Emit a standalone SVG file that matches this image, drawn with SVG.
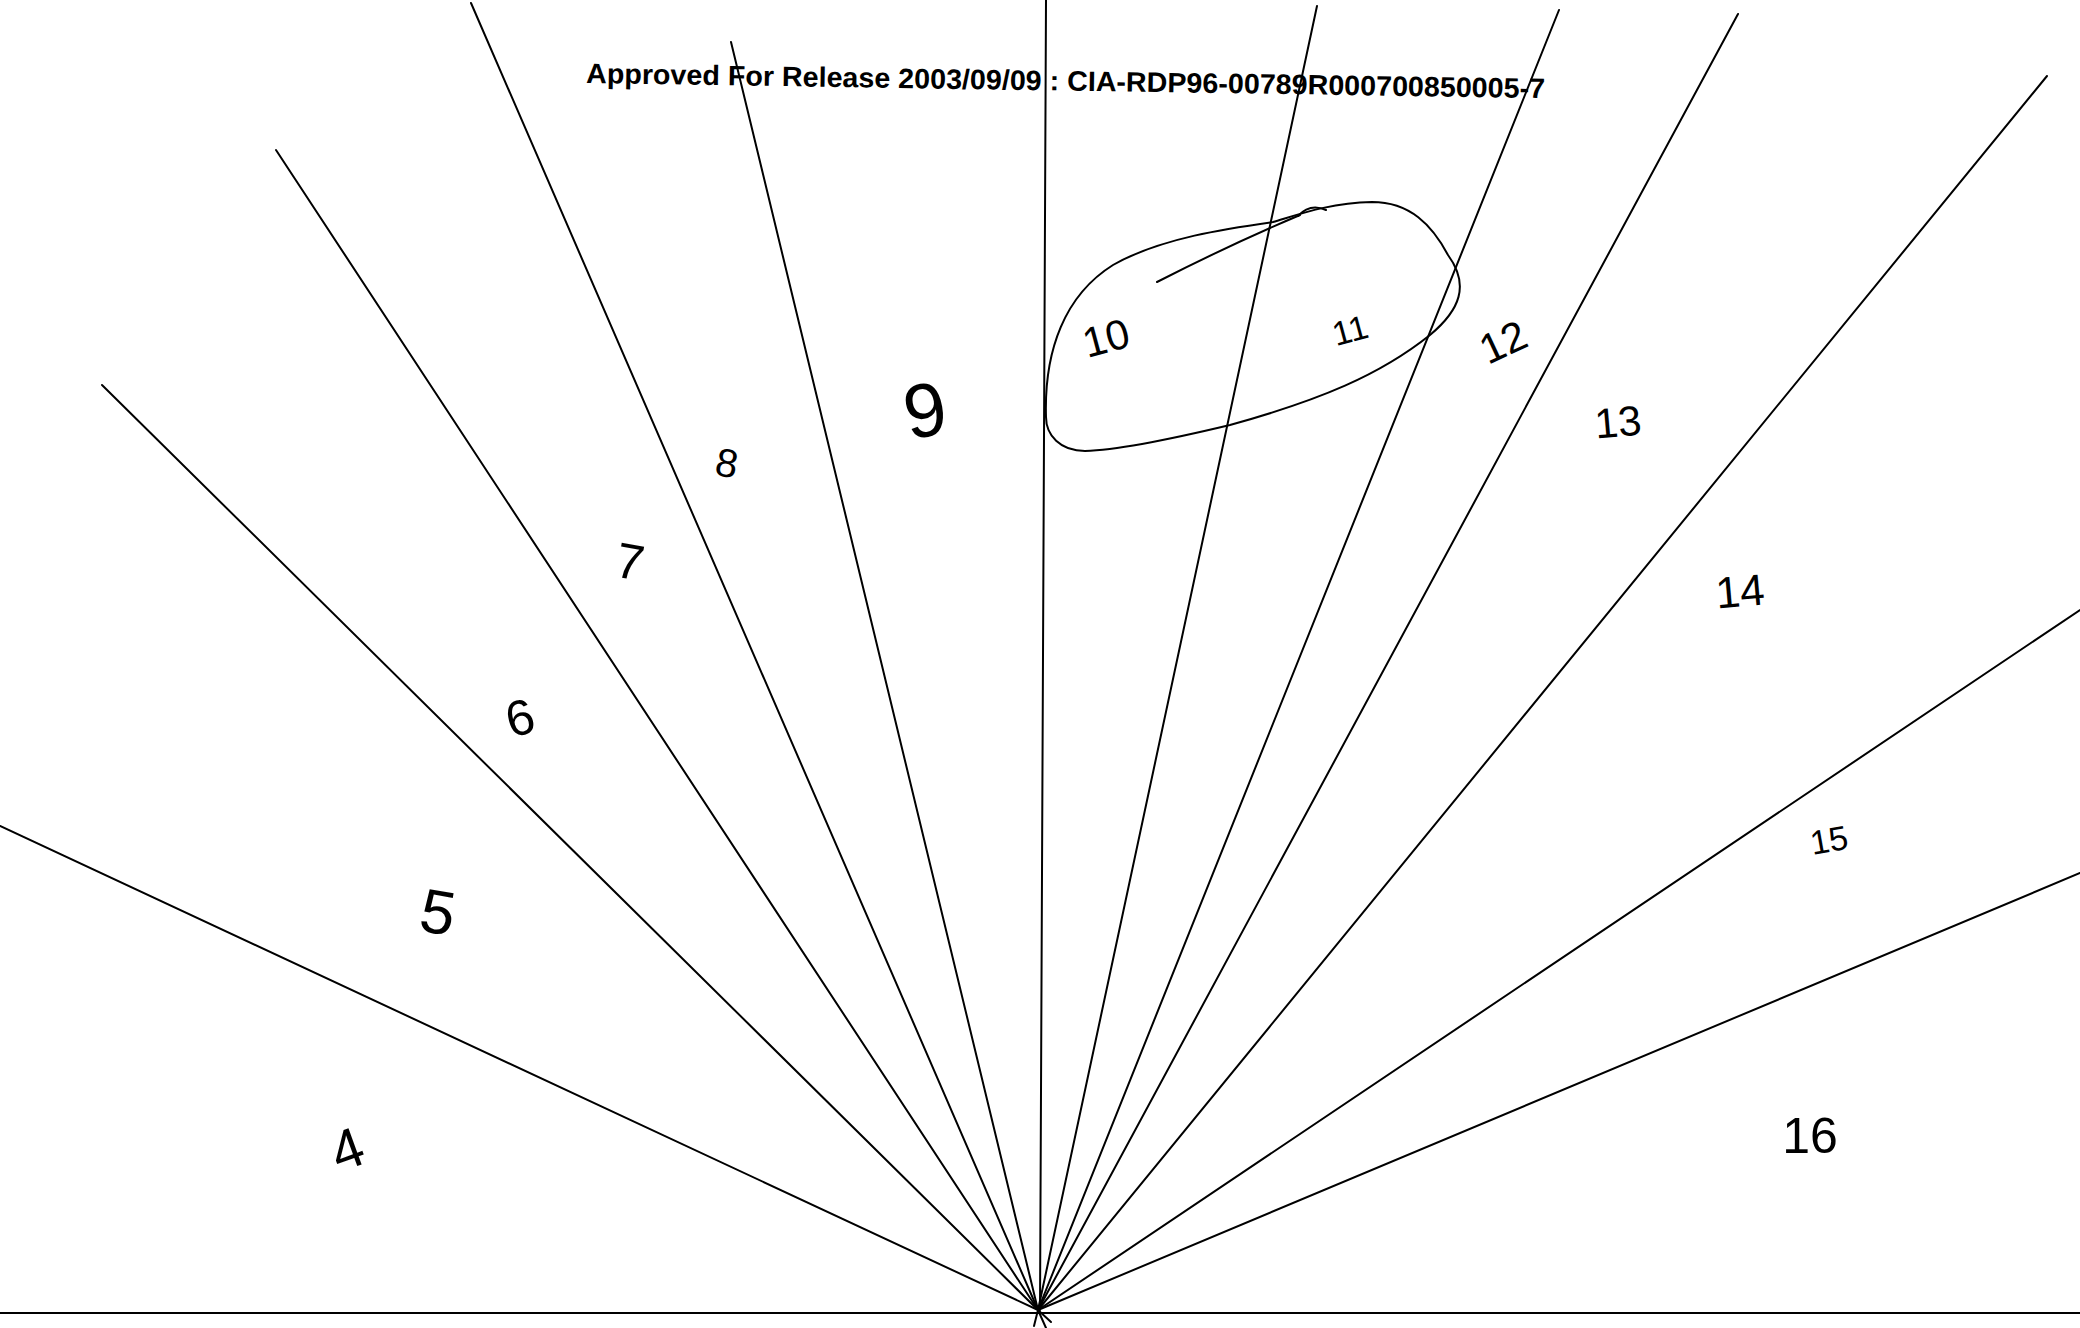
<svg xmlns="http://www.w3.org/2000/svg" width="2080" height="1328" viewBox="0 0 2080 1328">
<style>
.ray{stroke:#000;stroke-width:2;fill:none;stroke-linecap:round}
.hand{font-family:"Liberation Sans",Arial,sans-serif;fill:#000;text-anchor:middle;dominant-baseline:central}
.hdr{font-family:"Liberation Sans",Arial,sans-serif;font-weight:bold;font-size:28px;fill:#000}
</style>
<rect width="2080" height="1328" fill="#fff"/>
<g id="header">
<text class="hdr" x="586" y="83" textLength="959" lengthAdjust="spacingAndGlyphs" transform="rotate(0.9 586 83)">Approved For Release 2003/09/09 : CIA-RDP96-00789R000700850005-7</text>
</g>
<g id="connectors">
<line class="ray" x1="0" y1="1313" x2="2080" y2="1313"/>
<line class="ray" x1="0" y1="826" x2="1038" y2="1310"/>
<line class="ray" x1="102" y1="385" x2="1038" y2="1310"/>
<line class="ray" x1="276" y1="150" x2="1038" y2="1310"/>
<line class="ray" x1="471" y1="3" x2="1038" y2="1310"/>
<line class="ray" x1="731" y1="42" x2="1038" y2="1310"/>
<line class="ray" x1="1046" y1="0" x2="1040" y2="1310"/>
<line class="ray" x1="1317" y1="6" x2="1038" y2="1310"/>
<line class="ray" x1="1559" y1="10" x2="1038" y2="1310"/>
<line class="ray" x1="1738" y1="14" x2="1038" y2="1310"/>
<line class="ray" x1="2047" y1="76" x2="1038" y2="1310"/>
<line class="ray" x1="2080" y1="610" x2="1038" y2="1310"/>
<line class="ray" x1="2080" y1="873" x2="1038" y2="1310"/>
<line class="ray" x1="1038" y1="1310" x2="1046" y2="1328"/>
<line class="ray" x1="1038" y1="1310" x2="1034" y2="1326"/>
<line class="ray" x1="1038" y1="1310" x2="1051" y2="1322"/>
</g>
<g id="loop">
<path class="ray" d="M1046,417 C1044,350 1065,295 1113,265 C1160,238 1230,228 1273,222 C1300,214 1330,203 1372,202 C1410,202 1432,225 1448,255 C1470,285 1460,310 1430,335 C1380,375 1320,400 1230,425 C1180,437 1120,450 1085,451 C1060,451 1046,435 1046,417 Z"/>
<path class="ray" d="M1157,282 C1200,260 1260,232 1300,215"/>
<path class="ray" d="M1298,216 Q1310,203 1326,210"/>
</g>
<g id="labels">
<g id="n4"><text class="hand" x="347" y="1149" font-size="56" transform="rotate(-20 347 1149)">4</text></g>
<g id="n5"><text class="hand" x="438" y="912" font-size="62" transform="rotate(10 438 912)">5</text></g>
<g id="n6"><text class="hand" x="520" y="718" font-size="50" transform="rotate(-15 520 718)">6</text></g>
<g id="n7"><text class="hand" x="630" y="562" font-size="50" transform="rotate(10 630 562)">7</text></g>
<g id="n8"><text class="hand" x="727" y="463" font-size="40" transform="rotate(10 727 463)">8</text></g>
<g id="n9"><text class="hand" x="925" y="410" font-size="76" transform="rotate(-10 925 410)">9</text></g>
<g id="n10"><text class="hand" x="1106" y="338" font-size="42" transform="rotate(-15 1106 338)">10</text></g>
<g id="n11"><text class="hand" x="1350" y="330" font-size="34" transform="rotate(-15 1350 330)">11</text></g>
<g id="n12"><text class="hand" x="1503" y="342" font-size="42" transform="rotate(-25 1503 342)">12</text></g>
<g id="n13"><text class="hand" x="1618" y="422" font-size="42" transform="rotate(-5 1618 422)">13</text></g>
<g id="n14"><text class="hand" x="1740" y="591" font-size="44" transform="rotate(-5 1740 591)">14</text></g>
<g id="n15"><text class="hand" x="1829" y="840" font-size="34" transform="rotate(-10 1829 840)">15</text></g>
<g id="n16"><text class="hand" x="1810" y="1136" font-size="50">16</text></g>
</g>
</svg>
